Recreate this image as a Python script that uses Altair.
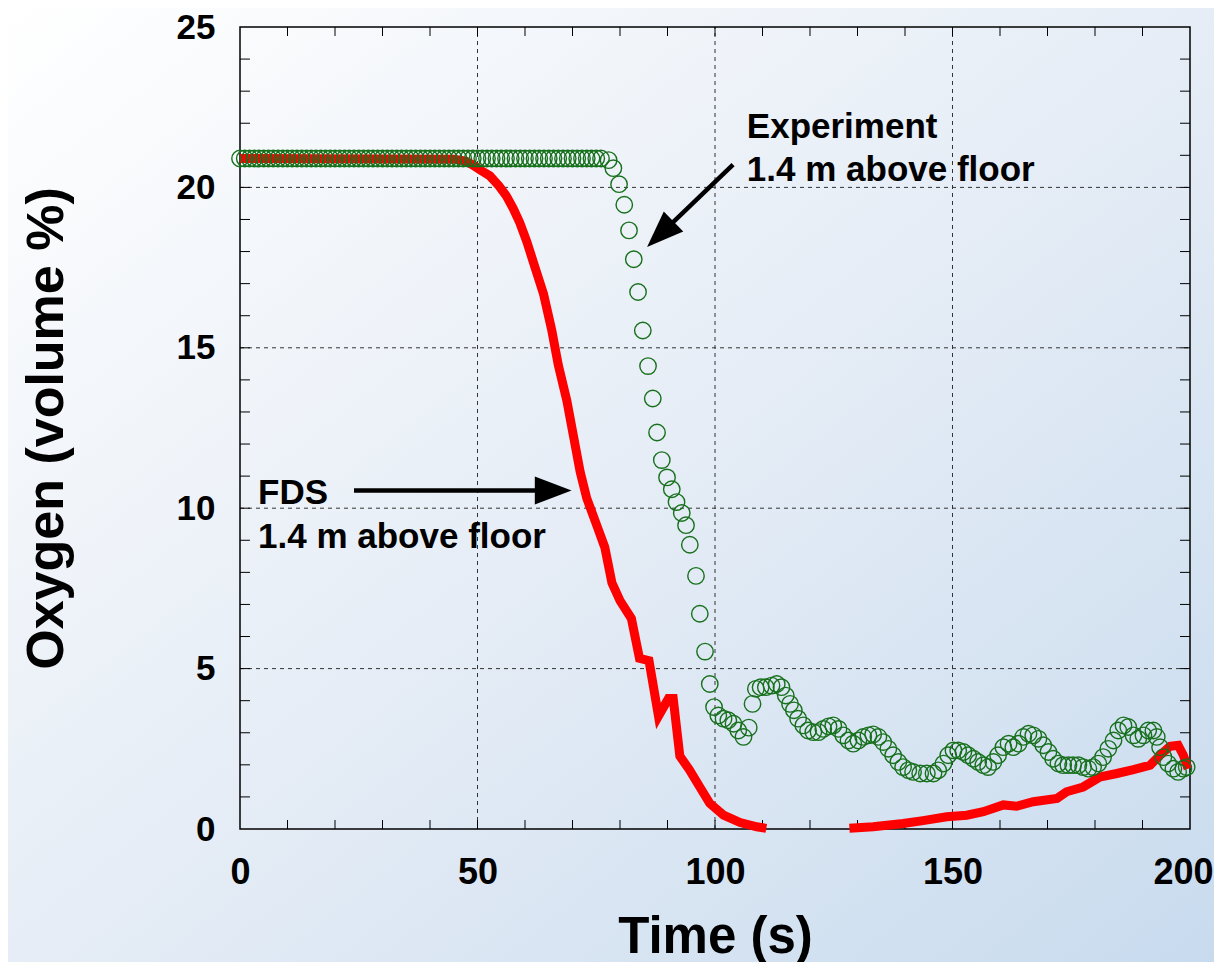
import altair as alt
import pandas as pd

# ---------------- data ----------------
# Experiment, 1.4 m above floor (open green circles)
exp_time = list(range(0, 77)) + [
    77.6, 78.6, 79.8, 80.9, 81.9, 82.9, 83.8, 84.8, 85.9, 86.9, 87.8, 88.8,
    89.9, 90.9, 91.9, 93.0, 93.9, 94.7, 96.0, 96.8, 97.9, 98.9,
    99.8, 100.7, 101.8, 102.8, 103.9, 104.9, 106.0, 107.1, 107.9, 108.6,
    109.6, 110.7, 111.9, 113.0, 114.0, 114.9, 115.8, 116.6, 117.5, 118.6,
    119.6, 120.7, 121.8, 122.8, 123.9, 124.9, 126.0, 127.0, 128.1, 129.1,
    130.2, 131.2, 132.3, 133.3, 134.4, 135.4, 136.5, 137.5, 138.6, 139.6,
    140.7, 141.7, 143.2, 144.6, 146.0, 147.0, 148.1, 149.1, 150.2, 151.2,
    152.3, 153.3, 154.4, 155.4, 156.5, 157.5, 158.6, 159.6, 160.7, 161.8,
    162.8, 163.9, 164.9, 166.0, 167.0, 168.1, 169.1, 170.2, 171.2, 172.3,
    173.3, 174.4, 175.4, 176.5, 177.5, 178.6, 179.6, 180.7, 181.7, 182.8,
    183.9, 184.9, 186.0, 187.0, 188.1, 189.1, 190.2, 191.2, 192.3, 193.0,
    193.7, 194.4, 195.4, 196.5, 197.5, 198.6, 199.3,
]
exp_o2 = [
    20.9, 20.9, 20.9, 20.9, 20.9, 20.9, 20.9, 20.9, 20.9, 20.9, 20.9,
    20.9, 20.9, 20.9, 20.9, 20.9, 20.9, 20.9, 20.9, 20.9, 20.9, 20.9,
    20.9, 20.9, 20.9, 20.9, 20.9, 20.9, 20.9, 20.9, 20.9, 20.9, 20.9,
    20.9, 20.9, 20.9, 20.9, 20.9, 20.9, 20.9, 20.9, 20.9, 20.9, 20.9,
    20.9, 20.9, 20.9, 20.9, 20.9, 20.9, 20.9, 20.9, 20.9, 20.9, 20.9,
    20.9, 20.9, 20.9, 20.9, 20.9, 20.9, 20.9, 20.9, 20.9, 20.9, 20.9,
    20.9, 20.9, 20.9, 20.9, 20.9, 20.9, 20.9, 20.9, 20.9, 20.9, 20.9,
    20.85, 20.6, 20.1, 19.46, 18.66, 17.76, 16.74, 15.54, 14.43, 13.42,
    12.36, 11.5, 10.96, 10.59, 10.19, 9.85, 9.47, 8.86, 7.89, 6.71, 5.53,
    4.52,
    3.8, 3.54, 3.44, 3.39, 3.28, 3.07, 2.87, 3.16, 3.9, 4.37,
    4.42, 4.42, 4.47, 4.52, 4.42, 4.16, 3.9, 3.7, 3.44, 3.23,
    3.07, 3.02, 3.02, 3.12, 3.2, 3.23, 3.12, 2.92, 2.76, 2.66,
    2.76, 2.87, 2.92, 2.95, 2.87, 2.71, 2.5, 2.3, 2.09, 1.93,
    1.83, 1.78, 1.73, 1.73, 1.73, 1.83, 2.04, 2.3, 2.45, 2.45,
    2.4, 2.3, 2.19, 2.09, 1.99, 1.93, 2.09, 2.3, 2.55, 2.66,
    2.55, 2.66, 2.87, 2.97, 2.92, 2.81, 2.61, 2.4, 2.19, 2.04,
    1.99, 1.99, 1.99, 1.99, 1.93, 1.88, 1.93, 2.04, 2.24, 2.5,
    2.76, 3.07, 3.23, 3.18, 2.92, 2.81, 2.92, 3.07, 3.07, 2.87,
    2.55, 2.24, 2.04, 1.88, 1.78, 1.88, 1.93,
]

# FDS, 1.4 m above floor (thick red line, two pieces)
fds_time_a = [0, 45, 47.5, 49, 50.5, 52.6, 54.5, 56.1, 57.5, 58.9, 60.4,
              61.8, 63.9, 65.6, 67, 68.8, 70.2, 71.6, 73, 75.1, 76.8, 78.3,
              80, 82.4, 84.1, 86.1, 88.1, 90.2, 91.2, 92.6, 94.6, 96.8,
              98.9, 101.8, 105.3, 108.8, 110.8]
fds_o2_a = [20.9, 20.88, 20.82, 20.7, 20.55, 20.36, 20.05, 19.73, 19.35,
            18.9, 18.3, 17.65, 16.68, 15.57, 14.47, 13.36, 12.25, 11.14,
            10.31, 9.47, 8.78, 7.67, 7.12, 6.56, 5.32, 5.25, 3.52, 4.07,
            4.07, 2.27, 1.85, 1.31, 0.8, 0.43, 0.2, 0.07, 0.02]
fds_time_b = [128.3, 133.3, 139.6, 143.8, 148.8, 153, 156.5, 160.7, 163.5,
              167, 172, 174, 177.5, 181, 184.6, 188.1, 191.6, 193.7, 195.8,
              197.5, 198.6, 199.6]
fds_o2_b = [0.02, 0.07, 0.17, 0.26, 0.38, 0.43, 0.54, 0.75, 0.71, 0.85,
            0.95, 1.16, 1.31, 1.62, 1.73, 1.85, 1.99, 2.3, 2.58, 2.61, 2.3,
            1.88]

# axes
x_labels = [0, 50, 100, 150, 200]
y_labels = [0, 5, 10, 15, 20, 25]
x_grid = [50, 100, 150]
y_grid = [5, 10, 15, 20]
x_minor = [10, 20, 30, 40, 50, 60, 70, 80, 90, 100, 110, 120, 130, 140,
           150, 160, 170, 180, 190]
y_minor = [1, 2, 3, 4, 5, 6, 7, 8, 9, 10, 11, 12, 13, 14, 15, 16, 17, 18,
           19, 20, 21, 22, 23, 24]

# annotations
note_text = ["Experiment", "1.4 m above floor", "FDS", "1.4 m above floor"]
note_t = [106.7, 106.7, 3.8, 3.8]
note_o2 = [21.55, 20.19, 10.12, 8.76]
arrow_t_start = [103.8, 24.0]
arrow_o2_start = [20.71, 10.55]
arrow_t_end = [90.2, 63.5]
arrow_o2_end = [18.78, 10.55]
arrow_t_tip = [85.7, 69.8]
arrow_o2_tip = [18.14, 10.55]
arrow_angle = [226, 90]

# ---------------- chart ----------------
W, H = 950, 802
PAD = {"left": 232, "top": 19, "right": 24, "bottom": 133}
FONT = "Liberation Sans"

df_exp = pd.DataFrame({"t": exp_time, "o2": exp_o2})
df_fds = pd.DataFrame({
    "t": fds_time_a + fds_time_b,
    "o2": fds_o2_a + fds_o2_b,
    "seg": ["a"] * len(fds_time_a) + ["b"] * len(fds_time_b),
})

xs = alt.Scale(domain=[0, 200], nice=False, zero=False)
ys = alt.Scale(domain=[0, 25], nice=False, zero=False)

x_axis = alt.Axis(
    values=x_labels, title="Time (s)", grid=False, ticks=False, domain=False,
    labelFlush=False, labelFont=FONT, labelFontSize=36, labelFontWeight="bold",
    labelColor="black", labelPadding=26,
    labelOffset={"condition": {"test": "datum.value == 200", "value": -7},
                 "value": 0},
    titleFont=FONT, titleFontSize=51,
    titleFontWeight="bold", titleColor="black", titlePadding=22, zindex=1,
)
y_axis = alt.Axis(
    values=y_labels, title="Oxygen (volume %)", grid=False, ticks=False,
    domain=False, labelFlush=False, labelFont=FONT, labelFontSize=35,
    labelFontWeight="bold", labelColor="black", labelPadding=25,
    titleFont=FONT, titleFontSize=52, titleFontWeight="bold",
    titleColor="black", titlePadding=103, zindex=1,
)

bg = alt.Chart(pd.DataFrame({"k": [0]})).mark_rect(
    fill=alt.LinearGradient(
        gradient="linear",
        stops=[alt.GradientStop(color="#ffffff", offset=0),
               alt.GradientStop(color="#e6edf6", offset=0.5),
               alt.GradientStop(color="#c8dbee", offset=1)],
        x1=0, y1=0, x2=1, y2=1,
    ),
    strokeWidth=0,
).encode(
    x=alt.value(-PAD["left"]), x2=alt.value(W + PAD["right"]),
    y=alt.value(-PAD["top"]), y2=alt.value(H + PAD["bottom"]),
)

grid_x = alt.Chart(pd.DataFrame({"t": x_grid})).mark_rule(
    color="#333333", strokeWidth=1, strokeDash=[4, 4]
).encode(
    x=alt.X("t:Q", scale=xs, axis=x_axis),
    y=alt.datum(0, scale=ys), y2=alt.datum(25),
)
grid_y = alt.Chart(pd.DataFrame({"o2": y_grid})).mark_rule(
    color="#333333", strokeWidth=1, strokeDash=[4, 4]
).encode(
    y=alt.Y("o2:Q", scale=ys, axis=y_axis),
    x=alt.datum(0, scale=xs), x2=alt.datum(200),
)

tick_style = dict(color="black", strokeWidth=1)
tick_bottom = alt.Chart(pd.DataFrame({"t": x_minor})).mark_rule(**tick_style).encode(
    x=alt.X("t:Q", scale=xs), y=alt.datum(0), y2=alt.datum(0.28))
tick_top = alt.Chart(pd.DataFrame({"t": x_minor})).mark_rule(**tick_style).encode(
    x=alt.X("t:Q", scale=xs), y=alt.datum(25), y2=alt.datum(24.72))
tick_left = alt.Chart(pd.DataFrame({"o2": y_minor})).mark_rule(**tick_style).encode(
    y=alt.Y("o2:Q", scale=ys), x=alt.datum(0), x2=alt.datum(2.1))
tick_right = alt.Chart(pd.DataFrame({"o2": y_minor})).mark_rule(**tick_style).encode(
    y=alt.Y("o2:Q", scale=ys), x=alt.datum(200), x2=alt.datum(197.9))

frame = alt.Chart(pd.DataFrame({"k": [0]})).mark_rect(
    fillOpacity=0, stroke="black", strokeWidth=1.5
).encode(
    x=alt.datum(0), x2=alt.datum(200), y=alt.datum(0), y2=alt.datum(25),
)

fds = alt.Chart(df_fds).mark_line(
    color="#ff0000", strokeWidth=9, strokeJoin="miter", strokeCap="butt"
).encode(
    x=alt.X("t:Q", scale=xs), y=alt.Y("o2:Q", scale=ys), detail="seg:N",
    order="t:Q",
)

exp = alt.Chart(df_exp).mark_point(
    shape="circle", filled=False, size=270, strokeWidth=1.4,
    color="#17701c", opacity=1,
).encode(x=alt.X("t:Q", scale=xs), y=alt.Y("o2:Q", scale=ys))

df_arrow = pd.DataFrame({
    "t": arrow_t_start, "o2": arrow_o2_start,
    "t2": arrow_t_end, "o22": arrow_o2_end,
    "tt": arrow_t_tip, "ot": arrow_o2_tip, "ang": arrow_angle,
})
arrow_line = alt.Chart(df_arrow).mark_rule(color="black", strokeWidth=4.5).encode(
    x=alt.X("t:Q", scale=xs), y=alt.Y("o2:Q", scale=ys),
    x2="t2:Q", y2="o22:Q",
)
arrow_head = alt.Chart(df_arrow).mark_point(
    shape="M0,0L0.8,2.1L-0.8,2.1Z", filled=True, color="black",
    size=1225, opacity=1, strokeWidth=0,
).encode(
    x=alt.X("tt:Q", scale=xs), y=alt.Y("ot:Q", scale=ys),
    angle=alt.Angle("ang:Q", scale=None),
)

df_note = pd.DataFrame({"t": note_t, "o2": note_o2, "label": note_text})
notes = alt.Chart(df_note).mark_text(
    align="left", baseline="alphabetic", font=FONT, fontSize=35,
    fontWeight="bold", color="black",
).encode(x=alt.X("t:Q", scale=xs), y=alt.Y("o2:Q", scale=ys), text="label:N")

chart = alt.layer(
    bg, grid_x, grid_y, tick_bottom, tick_top, tick_left, tick_right, frame,
    fds, exp, arrow_line, arrow_head, notes,
).properties(
    width=W, height=H,
    autosize=alt.AutoSizeParams(type="none"),
    padding=PAD,
    background="#ffffff",
).configure_view(
    stroke="black", strokeWidth=1.5,
)

chart.save("out.html", embed_options={"renderer": "svg", "actions": False})
